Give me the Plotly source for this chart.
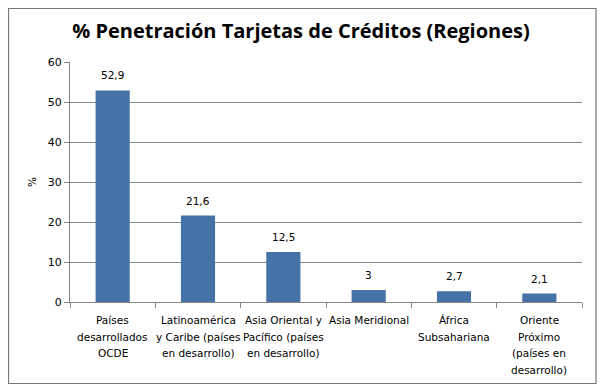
import plotly.graph_objects as go

categories = [
    "Países<br>desarrollados<br>OCDE",
    "Latinoamérica<br>y Caribe (países<br>en desarrollo)",
    "Asia Oriental y<br>Pacífico (países<br>en desarrollo)",
    "Asia Meridional",
    "África<br>Subsahariana",
    "Oriente<br>Próximo<br>(países en<br>desarrollo)",
]
values = [52.9, 21.6, 12.5, 3, 2.7, 2.1]
labels = ["52,9", "21,6", "12,5", "3", "2,7", "2,1"]

# page body has an 8px margin, so the figure is sized to fit inside it
W, H = 591, 376
L, R, T, B = 62, 17, 54, 82
pw, ph = W - L - R, H - T - B
FONT = "DejaVu Sans"
FS = 10.5
LINE_H = 16.7

fig = go.Figure(go.Bar(
    x=categories, y=values,
    marker=dict(color="#4572A7", line=dict(width=0)),
    cliponaxis=False,
))

annotations = []
# value labels above the bars
for c, v, t in zip(categories, values, labels):
    annotations.append(dict(x=c, y=v, xref="x", yref="y", text=t, showarrow=False,
                            yanchor="bottom", yshift=7,
                            font=dict(family=FONT, size=FS, color="black")))
# category labels, one line per annotation to reproduce Excel's line spacing
for c in categories:
    for j, line in enumerate(c.split("<br>")):
        annotations.append(dict(x=c, y=0, xref="x", yref="paper", text=line, showarrow=False,
                                yanchor="middle", yshift=-(18 + j * LINE_H),
                                font=dict(family=FONT, size=FS, color="black")))

def px_x(p):
    return (p - L) / pw

def px_y(p):
    return (H - B - p) / ph

fig.update_layout(
    width=W, height=H,
    margin=dict(l=L, r=R, t=T, b=B, autoexpand=False),
    paper_bgcolor="white", plot_bgcolor="white",
    bargap=0.6,
    showlegend=False,
    title=dict(text="<b>% Penetración Tarjetas de Créditos (Regiones)</b>",
               x=293 / W, xref="container", xanchor="center", y=1 - 23 / H, yanchor="middle",
               font=dict(family="Open Sans", size=20, color="black")),
    font=dict(family=FONT, size=FS, color="black"),
    xaxis=dict(type="category", showline=True, linecolor="#868686", linewidth=1,
               ticks="outside", tickson="boundaries", ticklen=5, tickcolor="#868686",
               showticklabels=False, automargin=False, showgrid=False),
    yaxis=dict(range=[0, 60], dtick=10, showline=True, linecolor="#868686", linewidth=1,
               ticks="outside", ticklen=5, tickcolor="#868686", automargin=False,
               gridcolor="#868686", gridwidth=1, zeroline=False,
               tickfont=dict(family=FONT, size=11, color="black"),
               title=dict(text="%", standoff=9, font=dict(family=FONT, size=FS))),
    annotations=annotations,
    shapes=[dict(type="rect", xref="paper", yref="paper",
                 x0=px_x(0.5), x1=px_x(588), y0=px_y(375.5), y1=px_y(0.5),
                 line=dict(color="#767676", width=1.2), fillcolor="rgba(0,0,0,0)",
                 layer="below")],
)

fig.write_html("out.html")
